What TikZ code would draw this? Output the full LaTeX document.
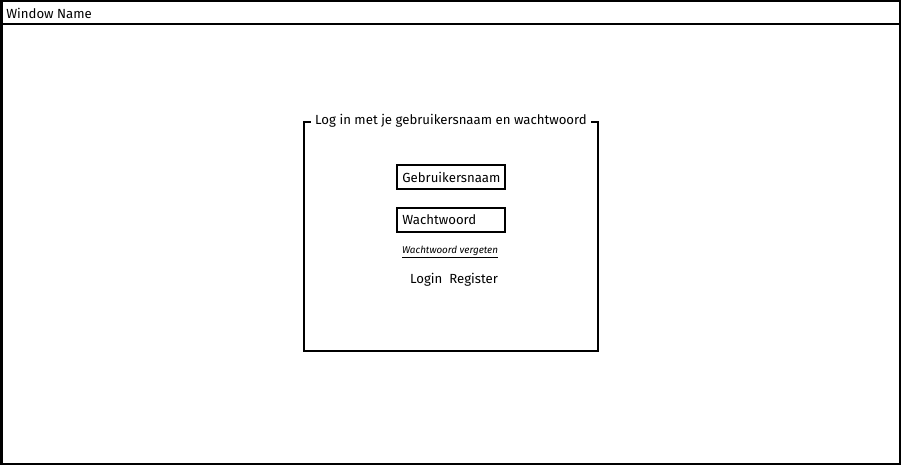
\documentclass[tikz,border=0pt]{standalone}
\usepackage{fontspec}
\setmainfont{Fira Sans}
\usetikzlibrary{positioning}

\tikzset{
  frame/.style={draw, line width=1.5pt},
  label/.style={inner sep=0pt, font=\fontsize{9.9}{11}\selectfont},
  field/.style={draw, line width=1.5pt, minimum width=81pt, minimum height=18pt,
    inner sep=0pt, text width=73pt, align=left, font=\fontsize{9.9}{11}\selectfont}
}

\begin{document}
\begin{tikzpicture}[x=0.75pt, y=-0.75pt]
    \useasboundingbox (0,0) rectangle (903,466);
    % window
    \draw [frame] (1.5,1.5) rectangle (900,464);
    \draw [frame] (1.5,24) -- (900,24);
    \node [label, anchor=west] (wintitle) at (6,13) {Window Name};
    % login group
    \draw [frame] (304,122) rectangle (598,351);
    \node [label, fill=white, inner xsep=3pt, inner ysep=2pt] (grouptitle) at (451,121) {Log in met je gebruikersnaam en wachtwoord};
    \node [field] (username) at (451,177) {Gebruikersnaam};
    \node [field] (password) at (451,220) {Wachtwoord};
    \node [label, font=\fontsize{7.4}{8}\selectfont\itshape] (forgot) at (450,252) {\underline{Wachtwoord vergeten}};
    \node [label] (buttons) at (454,280) {Login\ \ Register};
  \end{tikzpicture}
\end{document}
